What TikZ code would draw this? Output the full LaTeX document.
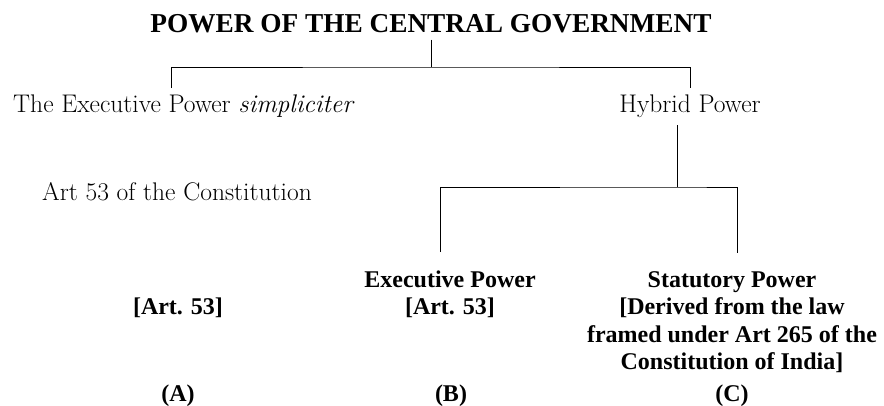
\documentclass[tikz,border=0pt]{standalone}
\usepackage{fontspec}
\usepackage{tikz}
\usetikzlibrary{positioning}
\newfontfamily\libserif{Liberation Serif}

\tikzset{
  plain/.style = {inner sep=0pt, font=\fontsize{25.5}{30}\selectfont},
  heading/.style = {inner sep=0pt, font=\libserif\bfseries\fontsize{27.3}{32}\selectfont},
  colbox/.style = {inner sep=0pt, align=center, font=\libserif\bfseries\fontsize{24}{27.5}\selectfont},
  link/.style = {line width=0.8pt}
}

\begin{document}
\begin{tikzpicture}[x=1pt, y=-1pt]
        \useasboundingbox (0,0) rectangle (884,406);
        \node[heading, anchor=base] (title) at (431,33) {POWER OF THE CENTRAL GOVERNMENT};
        \node[plain, anchor=base west] (simple) at (13,113) {The Executive Power \textit{simpliciter}};
        \node[plain, anchor=base] (hybrid) at (690,113) {Hybrid Power};
        \node[plain, anchor=base west] (art53) at (42,201) {Art 53 of the Constitution};
        % multi-line nodes sit on their last line
        \node[colbox, anchor=base] (artA) at (178,314.5) {[Art. 53]};
        \node[colbox, anchor=base] (execB) at (450,314.5) {Executive Power\\{[Art. 53]}};
        \node[colbox, anchor=base] (statC) at (732,369.5)
            {Statutory Power\\{[Derived from the law}\\framed under Art 265 of the\\Constitution of India]};
        \node[colbox, anchor=base] (labA) at (178,401) {(A)};
        \node[colbox, anchor=base] (labB) at (451,401) {(B)};
        \node[colbox, anchor=base] (labC) at (732,401) {(C)};
        \coordinate (forktop) at (431,67);
        \coordinate (forkhyb) at (677,187);
        \draw[link, shorten <=6pt] (title.south) -- (forktop);
        \draw[link, shorten <=7pt, shorten >=7pt] ([xshift=-13pt]simple.north) |- (forktop) -| (hybrid.north);
        \draw[link, shorten <=7pt] ([xshift=-13pt]hybrid.south) -- (forkhyb);
        \draw[link, shorten <=18pt, shorten >=18pt] ([xshift=-10pt]execB.north) |- (forkhyb) -| ([xshift=5pt]statC.north);
\end{tikzpicture}
\end{document}
